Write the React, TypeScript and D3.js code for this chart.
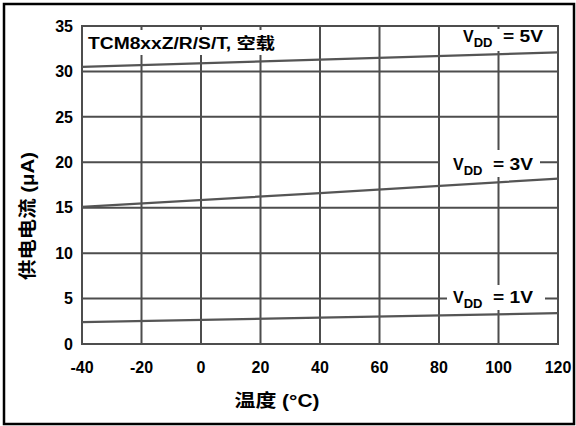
import React from 'react';
import * as d3 from 'd3';

// supply current vs temperature
const temps = [-40, 40, 120];
const vdd5 = [30.5, 31.3, 32.1];
const vdd3 = [15.1, 16.6, 18.2];
const vdd1 = [2.4, 2.9, 3.4];

const xTicks = [-40, -20, 0, 20, 40, 60, 80, 100, 120];
const yTicks = [0, 5, 10, 15, 20, 25, 30, 35];

const seriesNames = ['5V', '3V', '1V'];
const seriesValues = [vdd5, vdd3, vdd1];

const W = 576;
const H = 426;
const FONT = '"Liberation Sans", Arial, "Noto Sans CJK SC", sans-serif';
const GRID = '#4d4d4d';

const x = d3.scaleLinear().domain([-40, 120]).range([82, 558]);
const y = d3.scaleLinear().domain([0, 35]).range([344, 26]);

const line = d3
  .line<number>()
  .x((d, i) => x(temps[i]))
  .y((d) => y(d));

// annotation boxes: [text x, baseline, box x0, box y0, box x1, box y1]
const labelPos: Record<string, number[]> = {
  '5V': [463, 42, 455, 29, 550, 51],
  '3V': [453, 170, 440, 150, 540, 177],
  '1V': [453, 303, 447, 285, 545, 310],
};

const VddLabel = ({ name }: { name: string }) => {
  const [tx, ty, bx0, by0, bx1, by1] = labelPos[name];
  return (
    <g>
      <rect x={bx0} y={by0} width={bx1 - bx0} height={by1 - by0} fill="#fff" />
      <text x={tx} y={ty} fontSize={16} fontWeight="bold" fill="#000">
        V
        <tspan fontSize={13} dy={5}>
          DD
        </tspan>
      </text>
      <text x={tx + 40} y={ty} fontSize={16} fontWeight="bold" fill="#000" textLength={40} lengthAdjust="spacingAndGlyphs">
        = {name}
      </text>
    </g>
  );
};

const App = () => {
  const [x0, x1] = x.range();
  const [y0, y1] = y.range();
  return (
    <svg width={W} height={H} style={{ position: 'absolute', left: 0, top: 0, fontFamily: FONT }}>
      <rect x={0} y={0} width={W} height={H} fill="#fff" />
      <rect x={4} y={4} width={570} height={420} fill="none" stroke="#000" strokeWidth={2.5} />

      {/* grid */}
      {xTicks.slice(1, -1).map((t) => (
        <line key={'gx' + t} x1={x(t)} x2={x(t)} y1={y1} y2={y0} stroke={GRID} strokeWidth={2} />
      ))}
      {yTicks.slice(1, -1).map((t) => (
        <line key={'gy' + t} x1={x0} x2={x1} y1={y(t)} y2={y(t)} stroke={GRID} strokeWidth={2} />
      ))}
      <rect x={x0} y={y1} width={x1 - x0} height={y0 - y1} fill="none" stroke={GRID} strokeWidth={2} />

      {/* title box */}
      <rect x={85} y={30} width={195} height={25} fill="#fff" />
      <text x={88} y={49} fontSize={16} fontWeight="bold" fill="#000" textLength={187} lengthAdjust="spacingAndGlyphs">
        TCM8xxZ/R/S/T, 空载
      </text>

      {seriesNames.map((n) => (
        <VddLabel key={'lab' + n} name={n} />
      ))}

      {/* data */}
      {seriesValues.map((vals, i) => (
        <path key={'s' + i} d={line(vals) || ''} fill="none" stroke="#555" strokeWidth={2.2} />
      ))}

      {/* tick labels */}
      {xTicks.map((t) => (
        <text key={'tx' + t} x={x(t)} y={373} textAnchor="middle" fontSize={16} fontWeight="bold" fill="#000">
          {t}
        </text>
      ))}
      {yTicks.map((t) => (
        <text key={'ty' + t} x={73} y={y(t)} dy="0.36em" textAnchor="end" fontSize={16} fontWeight="bold" fill="#000">
          {t}
        </text>
      ))}

      {/* axis titles */}
      <text x={277} y={407} textAnchor="middle" fontSize={18} fontWeight="bold" fill="#000" textLength={85} lengthAdjust="spacingAndGlyphs">
        温度 (°C)
      </text>
      <text
        transform="translate(34,216) rotate(-90)"
        textAnchor="middle"
        fontSize={18}
        fontWeight="bold"
        fill="#000"
        textLength={128}
        lengthAdjust="spacingAndGlyphs"
      >
        供电电流 (μA)
      </text>
    </svg>
  );
};

export default App;
